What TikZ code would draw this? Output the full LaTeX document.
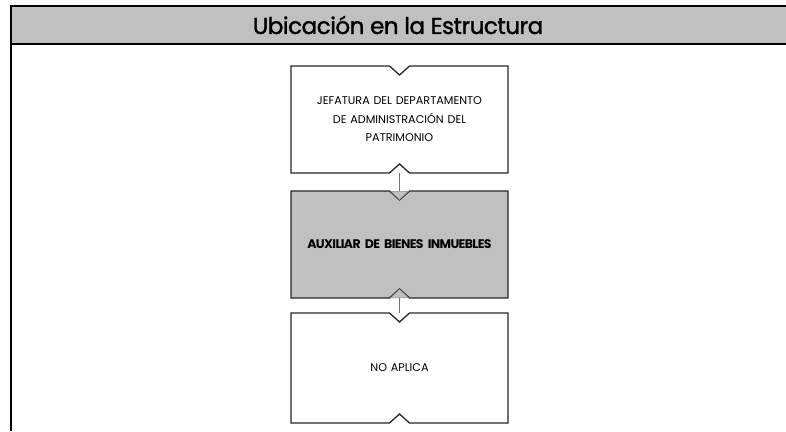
\documentclass[tikz,border=0pt]{standalone}
\usepackage{fontspec}
\setmainfont{Poppins}
\usetikzlibrary{positioning, calc, arrows.meta, backgrounds}
\definecolor{grisfondo}{HTML}{C0C0C0}
\tikzstyle{marco} = [line width=2.6pt, draw=black]
\tikzstyle{puesto} = [rectangle, minimum width=217pt, minimum height=107pt, outer sep=0pt, text width=210pt, align=center, font=\fontsize{11.2}{18.5}\selectfont]
\tikzstyle{contorno} = [draw=black!85, line width=1.3pt, line join=miter]
\tikzstyle{flecha} = [draw=black!55, line width=1pt, -{Triangle[width=19pt,length=9pt,fill=grisfondo,color=black!45,line width=0.5pt]}]

% contorno con muescas arriba y abajo
\newcommand{\muesca}[2]{%
  \path[contorno, fill=#2] (#1.north west) -- ($(#1.north)+(-10,0)$) -- ($(#1.north)+(0,9)$)
    -- ($(#1.north)+(10,0)$) -- (#1.north east) -- (#1.south east) -- ($(#1.south)+(10,0)$)
    -- ($(#1.south)+(0,-9)$) -- ($(#1.south)+(-10,0)$) -- (#1.south west) -- cycle;}

\begin{document}
\begin{tikzpicture}[x=1pt, y=-1pt]
    \useasboundingbox (0,0) rectangle (786,431);

    % Encabezado
    \fill[grisfondo] (11,6) rectangle (786,44);
    \draw[marco] (11,431) -- (11,6) -- (786,6);
    \draw[marco] (11,44) -- (786,44);
    \node (titulo) at (398,25) [font=\fontsize{23}{26}\selectfont] {\addfontfeature{FakeBold=1.5, LetterSpace=-2}Ubicación en la Estructura};

    % Puestos
    \node (jefatura) [puesto] at (399.5,119.5) {JEFATURA DEL DEPARTAMENTO\\ DE ADMINISTRACIÓN DEL\\ PATRIMONIO};
    \node (auxiliar) [puesto, below=18pt of jefatura, font=\fontsize{12.5}{18}\selectfont\bfseries] {\addfontfeature{LetterSpace=-5}AUXILIAR DE BIENES INMUEBLES};
    \node (noaplica) [puesto, below=15pt of auxiliar, minimum height=110pt] {NO APLICA};

    \begin{scope}[on background layer]
        \muesca{jefatura}{white}
        \muesca{auxiliar}{grisfondo}
        \muesca{noaplica}{white}
    \end{scope}

    % Flechas
    \draw[flecha] (jefatura.south) -- ($(auxiliar.north)+(0,9)$);
    \draw[flecha] (noaplica.north) -- ($(auxiliar.south)+(0,-9)$);
\end{tikzpicture}
\end{document}
